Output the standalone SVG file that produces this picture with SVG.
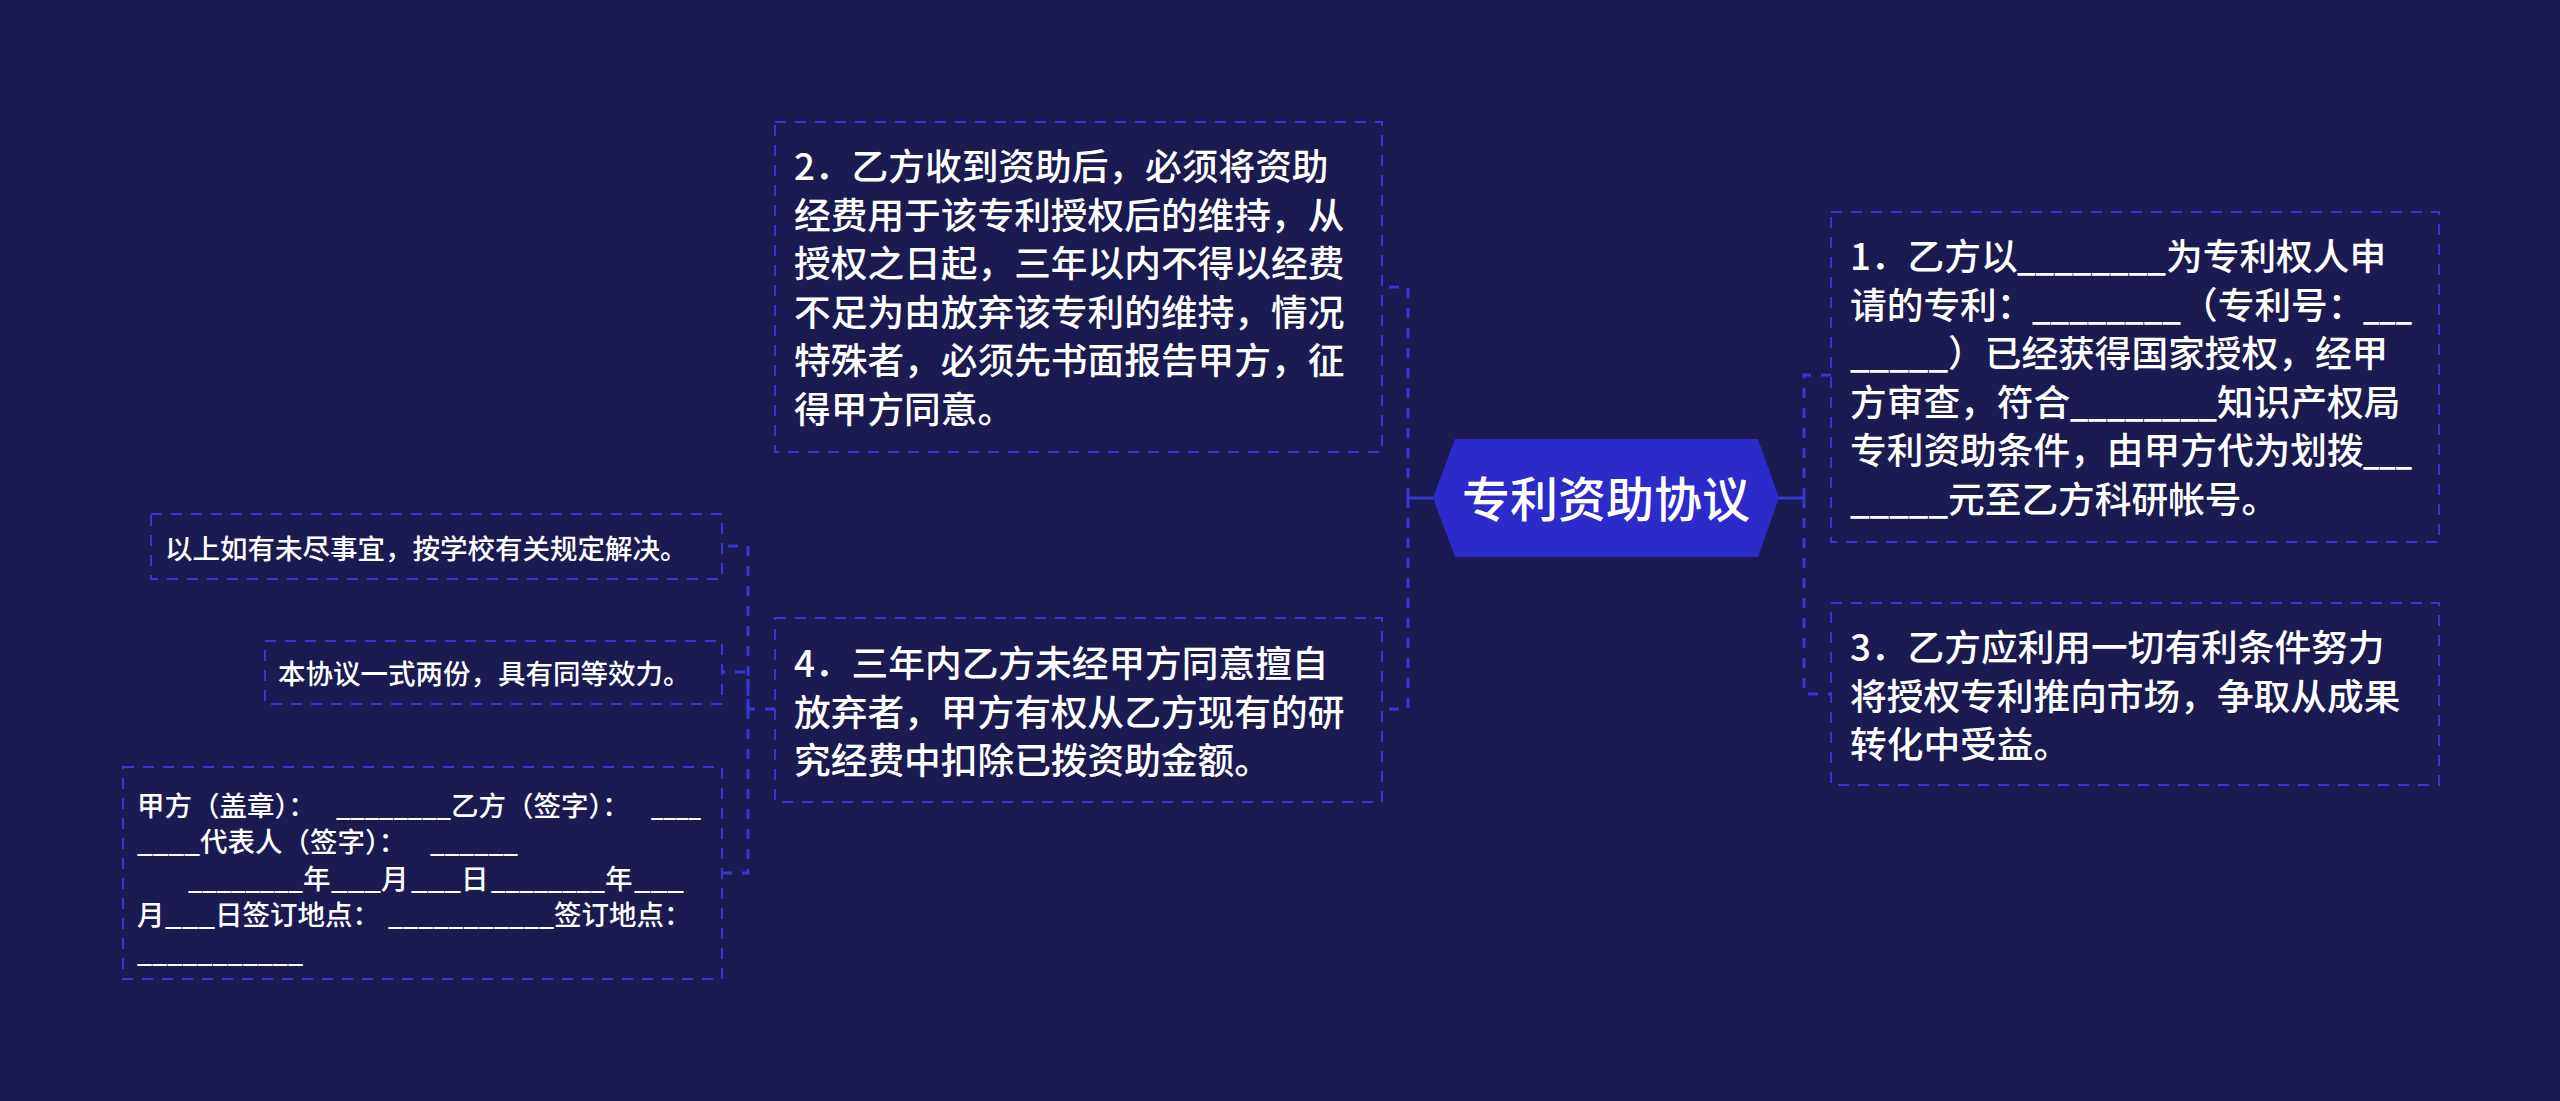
<svg xmlns="http://www.w3.org/2000/svg" width="2560" height="1101" viewBox="0 0 2560 1101">
<style>
.t{font-family:"Noto Sans CJK SC","Noto Sans",sans-serif;fill:#ffffff;font-weight:500}
.b{font-size:36.7px}
.s{font-size:27.5px}
.box{fill:none;stroke:#3737cf;stroke-width:2;stroke-dasharray:11 9}
.con{fill:none;stroke:#3737d4;stroke-width:3;stroke-dasharray:10 10}
.stub{fill:none;stroke:#3737d4;stroke-width:3}
</style>
<rect x="0" y="0" width="2560" height="1101" fill="#1b1a51"/>
<g id="connectors">
<path class="stub" d="M1433,498 H1408"/>
<path class="con" d="M1408,498 V287 H1382"/>
<path class="con" d="M1408,498 V709 H1382"/>
<path class="stub" d="M1779,498 H1804"/>
<path class="con" d="M1804,498 V375 H1831"/>
<path class="con" d="M1804,498 V694 H1831"/>
<path class="con" d="M775,709 H748 V546 H722"/>
<path class="con" d="M748,709 V672 H722"/>
<path class="con" d="M748,709 V873 H722"/>
</g>
<g id="root">
<polygon points="1433,498 1455,439 1758,439 1779,498 1758,557 1455,557" fill="#2b2bc9"/>
<text class="t" x="1606" y="517" font-size="48" text-anchor="middle">专利资助协议</text>
</g>
<g id="n1">
<rect class="box" x="1831" y="212" width="608" height="330"/>
<text class="t b">
<tspan x="1850" y="270">1．乙方以</tspan><tspan x="2017" y="270" textLength="149" lengthAdjust="spacingAndGlyphs">________</tspan><tspan x="2166" y="270">为专利权人申</tspan>
<tspan x="1850" y="318.5">请的专利：</tspan><tspan x="2032" y="318.5" textLength="149" lengthAdjust="spacingAndGlyphs">________</tspan><tspan x="2181" y="318.5">（专利号：</tspan><tspan x="2363" y="318.5" textLength="49" lengthAdjust="spacingAndGlyphs">___</tspan>
<tspan x="1850" y="367" textLength="98" lengthAdjust="spacingAndGlyphs">_____</tspan><tspan x="1948" y="367">）已经获得国家授权，经甲</tspan>
<tspan x="1850" y="415.5">方审查，符合</tspan><tspan x="2070" y="415.5" textLength="147" lengthAdjust="spacingAndGlyphs">________</tspan><tspan x="2217" y="415.5">知识产权局</tspan>
<tspan x="1850" y="464">专利资助条件，由甲方代为划拨</tspan><tspan x="2363" y="464" textLength="49" lengthAdjust="spacingAndGlyphs">___</tspan>
<tspan x="1850" y="512.5" textLength="98" lengthAdjust="spacingAndGlyphs">_____</tspan><tspan x="1948" y="512.5">元至乙方科研帐号。</tspan>
</text>
</g>
<g id="n3">
<rect class="box" x="1831" y="603" width="608" height="182"/>
<text class="t b">
<tspan x="1850" y="661">3．乙方应利用一切有利条件努力</tspan>
<tspan x="1850" y="709.5">将授权专利推向市场，争取从成果</tspan>
<tspan x="1850" y="758">转化中受益。</tspan>
</text>
</g>
<g id="n2">
<rect class="box" x="775" y="122" width="607" height="330"/>
<text class="t b">
<tspan x="794" y="180">2．乙方收到资助后，必须将资助</tspan>
<tspan x="794" y="228.5">经费用于该专利授权后的维持，从</tspan>
<tspan x="794" y="277">授权之日起，三年以内不得以经费</tspan>
<tspan x="794" y="325.5">不足为由放弃该专利的维持，情况</tspan>
<tspan x="794" y="374">特殊者，必须先书面报告甲方，征</tspan>
<tspan x="794" y="422.5">得甲方同意。</tspan>
</text>
</g>
<g id="n4">
<rect class="box" x="775" y="618" width="607" height="184"/>
<text class="t b">
<tspan x="794" y="677">4．三年内乙方未经甲方同意擅自</tspan>
<tspan x="794" y="725.5">放弃者，甲方有权从乙方现有的研</tspan>
<tspan x="794" y="774">究经费中扣除已拨资助金额。</tspan>
</text>
</g>
<g id="n5">
<rect class="box" x="151" y="514" width="571" height="65"/>
<text class="t s" x="165" y="558.5">以上如有未尽事宜，按学校有关规定解决。</text>
</g>
<g id="n6">
<rect class="box" x="265" y="641" width="457" height="63"/>
<text class="t s" x="278" y="684">本协议一式两份，具有同等效力。</text>
</g>
<g id="n7">
<rect class="box" x="123" y="767" width="599" height="212"/>
<text class="t s">
<tspan x="137" y="815.5">甲方（盖章）：</tspan><tspan x="336" y="815.5" textLength="115" lengthAdjust="spacingAndGlyphs">________</tspan><tspan x="451" y="815.5">乙方（签字）：</tspan><tspan x="651" y="815.5" textLength="50" lengthAdjust="spacingAndGlyphs">____</tspan>
<tspan x="137" y="852" textLength="63" lengthAdjust="spacingAndGlyphs">____</tspan><tspan x="200" y="852">代表人（签字）：</tspan><tspan x="430" y="852" textLength="88" lengthAdjust="spacingAndGlyphs">______</tspan>
<tspan x="188" y="888.5" textLength="115" lengthAdjust="spacingAndGlyphs">________</tspan><tspan x="303" y="888.5">年</tspan><tspan x="331" y="888.5" textLength="50" lengthAdjust="spacingAndGlyphs">___</tspan><tspan x="381" y="888.5">月</tspan><tspan x="411" y="888.5" textLength="50" lengthAdjust="spacingAndGlyphs">___</tspan><tspan x="461" y="888.5">日</tspan><tspan x="491" y="888.5" textLength="114" lengthAdjust="spacingAndGlyphs">________</tspan><tspan x="605" y="888.5">年</tspan><tspan x="634" y="888.5" textLength="50" lengthAdjust="spacingAndGlyphs">___</tspan>
<tspan x="137" y="925">月</tspan><tspan x="165" y="925" textLength="50" lengthAdjust="spacingAndGlyphs">___</tspan><tspan x="215" y="925">日签订地点：</tspan><tspan x="388" y="925" textLength="166" lengthAdjust="spacingAndGlyphs">___________</tspan><tspan x="554" y="925">签订地点：</tspan>
<tspan x="137" y="961.5" textLength="166" lengthAdjust="spacingAndGlyphs">___________</tspan>
</text>
</g>
</svg>
